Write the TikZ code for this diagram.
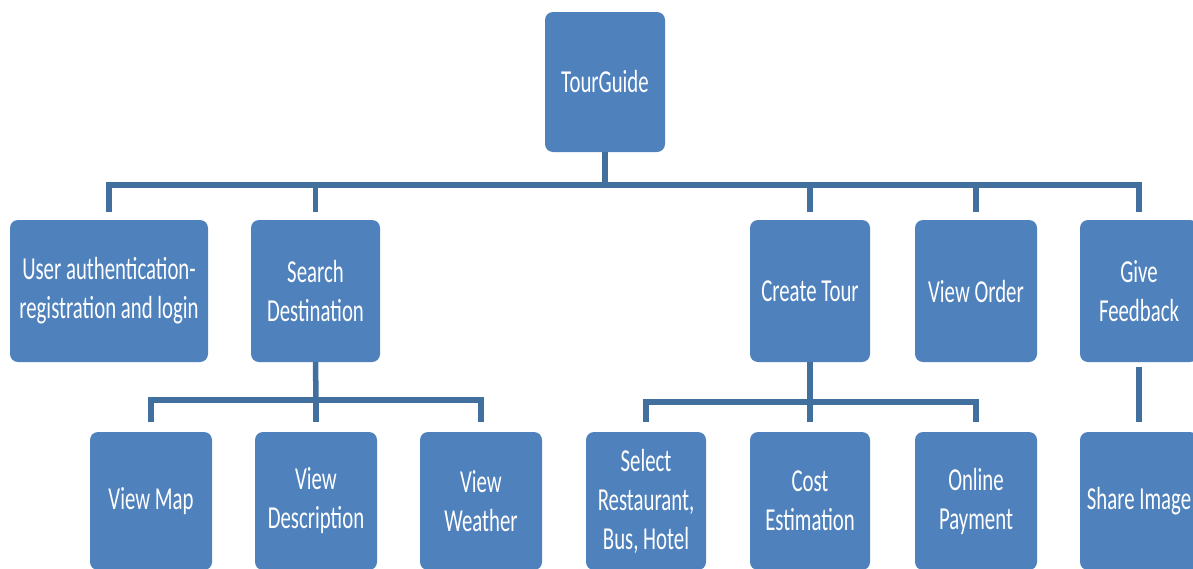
\documentclass[tikz,border=0pt]{standalone}
\usepackage{fontspec}
\setmainfont{Carlito}[FakeStretch=0.65]
\definecolor{boxblue}{HTML}{4F81BD}
\definecolor{lineblue}{HTML}{41709F}
\begin{document}
\begin{tikzpicture}[x=1pt,y=-1pt,
  box/.style={fill=boxblue, draw=none, rounded corners=8pt, text=white,
    align=center, inner sep=0pt, font=\fontsize{32}{39}\selectfont},
  top/.style={box, minimum width=120pt, minimum height=140pt},
  lvone/.style={box, minimum height=142pt},
  lvtwo/.style={box, minimum height=138pt},
  conn/.style={draw=lineblue, line width=5.5pt}]
\useasboundingbox (0,0) rectangle (1193,568);
\clip (0,0) rectangle (1193,568);
% root
\node[top] (root) at (605,82) {TourGuide};
% level 1
\node[lvone, minimum width=198pt] (ua) at (109,291) {User authentication-\\registration and login};
\node[lvone, minimum width=129pt] (sd) at (315.5,291) {Search\\Destination};
\node[lvone, minimum width=120pt] (ct) at (810,291) {Create Tour};
\node[lvone, minimum width=122pt] (vo) at (976,291) {View Order};
\node[lvone, minimum width=118pt] (gf) at (1139,291) {Give\\Feedback};
% level 2
\node[lvtwo, minimum width=122pt] (vm) at (151,501) {View Map};
\node[lvtwo, minimum width=122pt] (vd) at (316,501) {View\\Description};
\node[lvtwo, minimum width=122pt] (vw) at (481,501) {View\\Weather};
\node[lvtwo, minimum width=120pt] (sr) at (646,501) {Select\\Restaurant,\\Bus, Hotel};
\node[lvtwo, minimum width=120pt] (ce) at (810,501) {Cost\\Estimation};
\node[lvtwo, minimum width=122pt] (op) at (976,501) {Online\\Payment};
\node[lvtwo, minimum width=118pt] (si) at (1139,501) {Share Image};
% bars
\coordinate (b1) at (605,185);
\coordinate (b2) at (316,400);
\coordinate (b3) at (810,402);
% level 1 connectors
\draw[conn] (root.south) -- (b1);
\foreach \n in {ua,sd,ct,vo,gf}
  \draw[conn, shorten >=8pt] (b1) -| (\n.north);
% search destination children
\draw[conn] (sd.south) -- (b2);
\foreach \n in {vm,vd,vw}
  \draw[conn, shorten >=10pt] (b2) -| (\n.north);
% create tour children
\draw[conn] (ct.south) -- (b3);
\foreach \n in {sr,ce,op}
  \draw[conn, shorten >=10pt] (b3) -| (\n.north);
% feedback child
\draw[conn, shorten <=5pt, shorten >=10pt] (gf.south) -- (si.north);
\end{tikzpicture}
\end{document}
